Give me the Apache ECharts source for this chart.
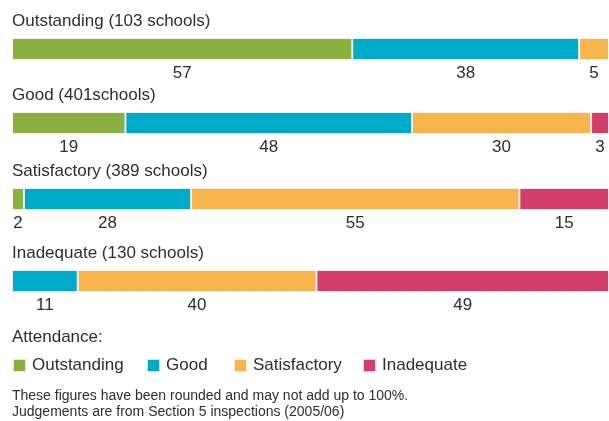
<html>
    <head>
        <meta charset="utf-8">
        <title>Attendance</title>
        <script src="https://cdn.jsdelivr.net/npm/echarts@6/dist/echarts.min.js"></script>
        <style>
            html, body { margin: 0; padding: 0; background: #fff; }
            #chart { width: 609px; height: 421px; }
        </style>
    </head>
    <body>
        <div id="chart"></div>
        <script type="text/javascript">
            // one row per overall judgement, values are % of schools per attendance grade
            var rowNames = ['Outstanding (103 schools)', 'Good (401schools)', 'Satisfactory (389 schools)', 'Inadequate (130 schools)'];
            var gradeNames = ['Outstanding', 'Good', 'Satisfactory', 'Inadequate'];
            var outstandingVals = [57, 19, 2, 0];
            var goodVals = [38, 48, 28, 11];
            var satisfactoryVals = [5, 30, 55, 40];
            var inadequateVals = [0, 3, 15, 49];

            var colors = ['#8bb042', '#00abc9', '#f8b44d', '#d23e69'];
            var gradeVals = [outstandingVals, goodVals, satisfactoryVals, inadequateVals];
            var textColor = '#2e2e2e';
            var font = 'Liberation Sans';

            var barTops = [38, 112, 188, 270];   // bar top per row
            var barHeight = 22;

            var dom = document.getElementById('chart');
            var myChart = echarts.init(dom, null, { renderer: 'canvas' });

            var grids = [], xAxes = [], yAxes = [], series = [], titles = [];
            for (var r = 0; r < rowNames.length; r++) {
                grids.push({ left: 12, width: 600, top: barTops[r], height: barHeight });
                xAxes.push({ type: 'value', gridIndex: r, min: 0, max: 100, show: false });
                yAxes.push({ type: 'category', gridIndex: r, data: [rowNames[r]], show: false });
                titles.push({
                    text: rowNames[r], left: 12, top: barTops[r] - 25, padding: 0,
                    textStyle: { fontFamily: font, fontSize: 17, fontWeight: 'normal', color: textColor }
                });
                for (var g = 0; g < gradeNames.length; g++) {
                    series.push({
                        name: gradeNames[g],
                        type: 'bar',
                        stack: 'row' + r,
                        xAxisIndex: r,
                        yAxisIndex: r,
                        barWidth: '100%',
                        itemStyle: { color: colors[g], borderColor: 'rgba(255,255,255,0.75)', borderWidth: 1 },
                        label: {
                            show: true,
                            position: 'bottom',
                            distance: 5,
                            fontFamily: font,
                            fontSize: 17,
                            color: textColor,
                            formatter: function (p) { return p.value ? p.value : ''; }
                        },
                        data: [gradeVals[g][r]]
                    });
                }
            }

            titles.push({
                text: 'Attendance:', left: 12, top: 329, padding: 0,
                textStyle: { fontFamily: font, fontSize: 17, fontWeight: 'normal', color: textColor }
            });
            titles.push({
                text: 'These figures have been rounded and may not add up to 100%.\nJudgements are from Section 5 inspections (2005/06)',
                left: 12, top: 388, padding: 0,
                textStyle: { fontFamily: font, fontSize: 14, lineHeight: 16, fontWeight: 'normal', color: textColor }
            });

            var legendLefts = [12, 146, 233, 362];
            var legends = gradeNames.map(function (n, i) {
                return {
                    data: [n], left: legendLefts[i], top: 357, padding: 0,
                    icon: 'rect', itemWidth: 13, itemHeight: 13, itemGap: 0,
                    selectedMode: false,
                    textStyle: { fontFamily: font, fontSize: 17, color: textColor, padding: [0, 0, 0, 1] }
                };
            });

            var option = {
                animation: false,
                color: colors,
                title: titles,
                legend: legends,
                grid: grids,
                xAxis: xAxes,
                yAxis: yAxes,
                series: series
            };
            if (option && typeof option === "object") {
                myChart.setOption(option, true);
            }
        </script>
    </body>
</html>
